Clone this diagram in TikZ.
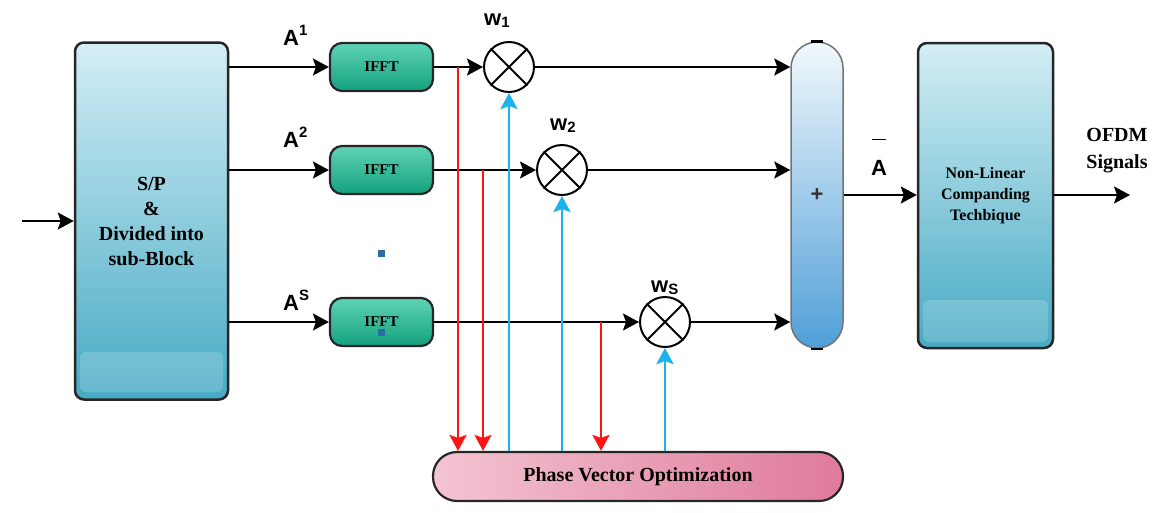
\documentclass[tikz,border=0pt]{standalone}
\usepackage{fontspec}
\setmainfont{Liberation Serif}
\setsansfont{Liberation Sans}
\usepackage{xcolor}
\usepackage{tikz}
\usetikzlibrary{positioning, calc, arrows.meta}

\definecolor{boxtop}{HTML}{D4EEF5}
\definecolor{boxbot}{HTML}{46AAC4}
\definecolor{iffttop}{HTML}{5ED3B4}
\definecolor{ifftbot}{HTML}{14A17E}
\definecolor{sumtop}{HTML}{F2F8FC}
\definecolor{summid}{HTML}{7DB8E8}
\definecolor{sumbot}{HTML}{4F9FD9}
\definecolor{pvoleft}{HTML}{F3C4D2}
\definecolor{pvoright}{HTML}{DF7A9B}
\definecolor{fbred}{HTML}{FF1414}
\definecolor{fbblue}{HTML}{1CB2EE}
\definecolor{dotblue}{HTML}{2B6CA6}

\newcommand{\upidx}[1]{\raisebox{10pt}{\fontsize{15}{15}\selectfont #1}}
\newcommand{\lowidx}[1]{\raisebox{-2pt}{\fontsize{15}{15}\selectfont #1}}

\tikzset{
  arr/.style={-{Stealth[length=16pt,width=17pt,inset=3pt]}, line width=2pt},
  redarr/.style={arr, draw=fbred, fill=fbred, line width=2.2pt},
  bluearr/.style={arr, draw=fbblue, fill=fbblue, line width=2.8pt},
  bigbox/.style={draw=black!85, line width=2.5pt, rounded corners=9pt,
    top color=boxtop, bottom color=boxbot, align=center, inner sep=0pt},
  ifft/.style={draw=black!85, line width=2.2pt, rounded corners=12pt,
    top color=iffttop, bottom color=ifftbot, minimum width=103pt, minimum height=48pt,
    font=\bfseries\fontsize{15}{18}\selectfont},
  mult/.style={circle, draw, line width=2pt, fill=white, minimum size=50pt, inner sep=0pt},
  summer/.style={draw=black!55, line width=1.5pt, rounded corners=26pt,
    top color=sumtop, middle color=summid, bottom color=sumbot,
    minimum width=52pt, minimum height=306pt,
    font=\sffamily\bfseries\fontsize{22}{24}\selectfont, text=black!80},
  pvobox/.style={draw=black!85, line width=2.2pt, rounded corners=24pt,
    left color=pvoleft, right color=pvoright, minimum width=410pt, minimum height=49pt,
    font=\bfseries\fontsize{20}{24}\selectfont},
  lab/.style={font=\sffamily\bfseries\fontsize{22}{26}\selectfont, inner sep=0pt},
  dot/.style={fill=dotblue, minimum size=7pt, inner sep=0pt}
}

\begin{document}
\begin{tikzpicture}[x=1pt, y=-1pt]
  \useasboundingbox (0,0) rectangle (1161,512);

  % the two big blocks
  \node[bigbox, minimum width=153pt, minimum height=357pt,
    font=\bfseries\fontsize{20}{25}\selectfont] (sp) at (151.5,221)
    {S/P\\\&\\Divided into\\sub-Block};
  \node[bigbox, minimum width=135pt, minimum height=305pt,
    font=\bfseries\fontsize{16}{21}\selectfont] (nl) at (985.5,195.5)
    {Non-Linear\\Companding\\Techbique};
  % highlight bands
  \fill[white, opacity=0.18, rounded corners=6pt] (80,352) rectangle (223,392);
  \fill[white, opacity=0.18, rounded corners=6pt] (923,300) rectangle (1048,342);

  % IFFT branches and multipliers
  \foreach \k/\y in {1/67, 2/170, 3/322} {
    \node[ifft] (ifft\k) at (381.5,\y) {IFFT};
  }
  \foreach \k/\x/\y in {1/509/67, 2/562/170, 3/665/322} {
    \node[mult] (m\k) at (\x,\y) {};
    \draw[line width=2pt] (m\k.45) -- (m\k.225) (m\k.135) -- (m\k.315);
  }

  % adder and optimization block
  \node[summer] (sum) at (817,195) {+};
  \draw[line width=2.5pt] (sum.north) ++(-6,0) -- ++(12,0);
  \draw[line width=2.5pt] (sum.south) ++(-6,0) -- ++(12,0);
  \node[pvobox] (pvo) at (638,476.5) {Phase Vector Optimization};

  % the dots
  \node[dot] (dot1) at (381,253) {};
  \node[dot] (dot2) at (381,332) {};

  % labels
  \node[lab, anchor=base west] (a1) at (283,45) {A\upidx{1}};
  \node[lab, anchor=base west] (a2) at (283,147) {A\upidx{2}};
  \node[lab, anchor=base west] (as) at (283,310) {A\upidx{S}};
  \node[lab, anchor=base west] (w1) at (484,25) {w\lowidx{1}};
  \node[lab, anchor=base west] (w2) at (550,130) {w\lowidx{2}};
  \node[lab, anchor=base west] (ws) at (651,292) {w\lowidx{S}};
  \node[lab, anchor=base west] (abar) at (871,175) {A};
  \draw[line width=1.3pt] (abar.north west) ++(1,-20) -- ++(14,0);
  \node[font=\bfseries\fontsize{20}{27}\selectfont, align=center] (ofdm) at (1117,151) {OFDM\\Signals};

  % signal path
  \coordinate (in) at (22,221);
  \coordinate (out) at (1130,195);
  \draw[arr] (in) -- (sp.west |- in);
  \foreach \k in {1,2,3} {
    \draw[arr] (sp.east |- ifft\k) -- (ifft\k.west);
    \draw[arr] (ifft\k.east) -- (m\k.west);
    \draw[arr] (m\k.east) -- (sum.west |- m\k);
  }
  \draw[arr] (sum.east) -- (nl.west |- sum.east);
  \draw[arr] (nl.east |- out) -- (out);

  % feedback to and from the optimization
  \foreach \k/\x/\y in {1/458/67, 2/483/170, 3/601/322} {
    \coordinate (tap\k) at (\x,\y);
    \draw[redarr] (tap\k) -- (tap\k |- pvo.north);
  }
  \foreach \k in {1,2,3} {
    \draw[bluearr] (pvo.north -| m\k) -- (m\k.south);
  }
\end{tikzpicture}
\end{document}
